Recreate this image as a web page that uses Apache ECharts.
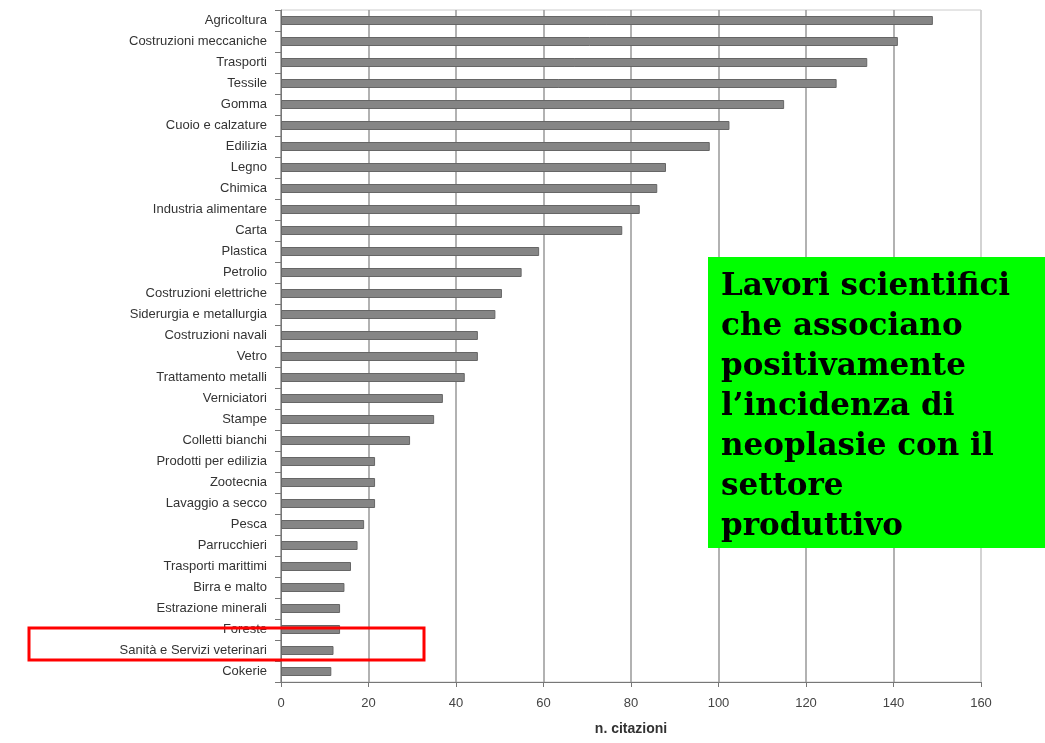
<!DOCTYPE html>
<html>
<head>
<meta charset="utf-8">
<script src="https://cdn.jsdelivr.net/npm/echarts@6/dist/echarts.min.js"></script>
<style>
html,body{margin:0;padding:0;background:#fff;}
#chart{width:1045px;height:743px;}
</style>
</head>
<body>
<div id="chart"></div>
<script>
const categories = ["Agricoltura","Costruzioni meccaniche","Trasporti","Tessile","Gomma","Cuoio e calzature","Edilizia","Legno","Chimica","Industria alimentare","Carta","Plastica","Petrolio","Costruzioni elettriche","Siderurgia e metallurgia","Costruzioni navali","Vetro","Trattamento metalli","Verniciatori","Stampe","Colletti bianchi","Prodotti per edilizia","Zootecnia","Lavaggio a secco","Pesca","Parrucchieri","Trasporti marittimi","Birra e malto","Estrazione minerali","Foreste","Sanità e Servizi veterinari","Cokerie"];
const citazioni = [149,141,134,127,115,102.5,98,88,86,82,78,59,55,50.5,49,45,45,42,37,35,29.5,21.5,21.5,21.5,19,17.5,16,14.5,13.5,13.5,12,11.5];
const xTicks = {min:0, max:160, interval:20};
const noteLines = ["Lavori scientifici","che associano","positivamente","l\u2019incidenza di","neoplasie con il","settore","produttivo"];

const chart = echarts.init(document.getElementById('chart'));
chart.setOption({
  animation:false,
  backgroundColor:'#fff',
  grid:{left:281,right:64,top:10,bottom:61,show:true,borderColor:'#ccc',borderWidth:1,containLabel:false},
  xAxis:{
    type:'value', min:xTicks.min, max:xTicks.max, interval:xTicks.interval,
    name:'n. citazioni', nameLocation:'middle', nameGap:40,
    nameTextStyle:{fontFamily:'Liberation Sans',fontSize:14,fontWeight:'bold',color:'#333'},
    axisLine:{show:true,lineStyle:{color:'#777',width:1}},
    axisTick:{show:true,length:5,lineStyle:{color:'#777'}},
    axisLabel:{fontFamily:'Liberation Sans',fontSize:13,color:'#444',margin:15},
    splitLine:{show:true,lineStyle:{color:['#999','#999','#999','#999','#999','#999','#999','#999','#ccc'],width:1.5}}
  },
  yAxis:{
    type:'category', data:categories, inverse:true,
    axisLine:{show:true,lineStyle:{color:'#777',width:1}},
    axisTick:{show:true,length:6,alignWithLabel:false,lineStyle:{color:'#777'}},
    axisLabel:{fontFamily:'Liberation Sans',fontSize:13,color:'#333',margin:14,interval:0},
    splitLine:{show:false}
  },
  series:[{
    type:'bar', data:citazioni, barWidth:9,
    itemStyle:{color:'#858585',borderColor:'#666',borderWidth:1}
  }],
  graphic:[
    {type:'rect',shape:{x:708,y:257,width:337,height:291},style:{fill:'#00ff00'},z:10},
    {type:'text',left:721,top:267,z:11,style:{text:noteLines.join('\n'),font:'bold 31px "DejaVu Serif"',fill:'#000',lineHeight:40}},
    {type:'rect',shape:{x:29,y:628,width:395,height:32},style:{fill:'none',stroke:'#ff0000',lineWidth:3},z:12}
  ]
});
</script>
</body>
</html>
